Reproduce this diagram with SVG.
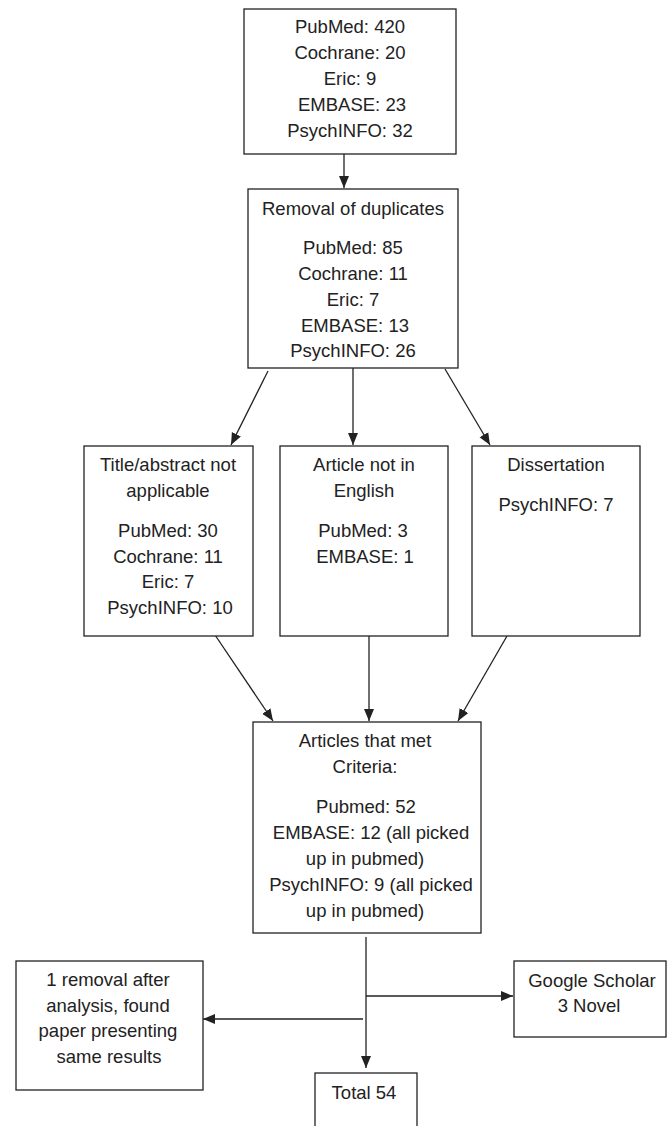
<svg xmlns="http://www.w3.org/2000/svg" width="667" height="1126" viewBox="0 0 667 1126">
<style>
.box{fill:#fff;stroke:#222;stroke-width:1.3}
.t{font-family:"Liberation Sans",Arial,sans-serif;font-size:18.5px;fill:#222;text-anchor:middle}
.c{stroke:#222;stroke-width:1.3;fill:none;marker-end:url(#ah)}
</style>
<defs>
<marker id="ah" markerUnits="userSpaceOnUse" markerWidth="12" markerHeight="12" viewBox="0 0 12 12" refX="12" refY="6" orient="auto">
<path d="M0,1 L12,6 L0,11 Z" fill="#222"/>
</marker>
</defs>
<rect width="667" height="1126" fill="#fff"/>
<g id="connectors">
<line class="c" x1="344" y1="154" x2="344" y2="188"/>
<line class="c" x1="268" y1="371" x2="231" y2="445"/>
<line class="c" x1="353" y1="368" x2="353" y2="445"/>
<line class="c" x1="445" y1="369" x2="490" y2="445"/>
<line class="c" x1="213" y1="632" x2="273" y2="721"/>
<line class="c" x1="369" y1="636" x2="369" y2="721"/>
<line class="c" x1="507" y1="636" x2="458" y2="721"/>
<line class="c" x1="366" y1="937" x2="366" y2="1068"/>
<line class="c" x1="366" y1="996" x2="513" y2="996"/>
<line class="c" x1="363" y1="1019" x2="203" y2="1019"/>
</g>
<g id="sources">
<rect class="box" x="244" y="9" width="212" height="145"/>
<text class="t" x="350" y="33">PubMed: 420</text>
<text class="t" x="350" y="59">Cochrane: 20</text>
<text class="t" x="350" y="85">Eric: 9</text>
<text class="t" x="352" y="111">EMBASE: 23</text>
<text class="t" x="350" y="137">PsychINFO: 32</text>
</g>
<g id="duplicates">
<rect class="box" x="248" y="189" width="210" height="179"/>
<text class="t" x="353" y="215">Removal of duplicates</text>
<text class="t" x="353" y="254">PubMed: 85</text>
<text class="t" x="353" y="280">Cochrane: 11</text>
<text class="t" x="353" y="306">Eric: 7</text>
<text class="t" x="355" y="332">EMBASE: 13</text>
<text class="t" x="353" y="357">PsychINFO: 26</text>
</g>
<g id="title-abstract">
<rect class="box" x="84" y="446" width="169" height="190"/>
<text class="t" x="168" y="471">Title/abstract not</text>
<text class="t" x="168" y="497">applicable</text>
<text class="t" x="168" y="537">PubMed: 30</text>
<text class="t" x="168" y="563">Cochrane: 11</text>
<text class="t" x="168" y="588">Eric: 7</text>
<text class="t" x="170" y="614">PsychINFO: 10</text>
</g>
<g id="not-english">
<rect class="box" x="280" y="446" width="168" height="190"/>
<text class="t" x="364" y="471">Article not in</text>
<text class="t" x="364" y="497">English</text>
<text class="t" x="363" y="537">PubMed: 3</text>
<text class="t" x="365" y="563">EMBASE: 1</text>
</g>
<g id="dissertation">
<rect class="box" x="472" y="446" width="168" height="190"/>
<text class="t" x="556" y="471">Dissertation</text>
<text class="t" x="556" y="511">PsychINFO: 7</text>
</g>
<g id="criteria">
<rect class="box" x="253" y="722" width="228" height="211"/>
<text class="t" x="365" y="747">Articles that met</text>
<text class="t" x="365" y="773">Criteria:</text>
<text class="t" x="366" y="813">Pubmed: 52</text>
<text class="t" x="371" y="839">EMBASE: 12 (all picked</text>
<text class="t" x="365" y="865">up in pubmed)</text>
<text class="t" x="371" y="891">PsychINFO: 9 (all picked</text>
<text class="t" x="365" y="917">up in pubmed)</text>
</g>
<g id="removal">
<rect class="box" x="16" y="961" width="187" height="129"/>
<text class="t" x="108" y="986">1 removal after</text>
<text class="t" x="108" y="1012">analysis, found</text>
<text class="t" x="108" y="1037">paper presenting</text>
<text class="t" x="109" y="1063">same results</text>
</g>
<g id="google-scholar">
<rect class="box" x="514" y="961" width="152" height="76"/>
<text class="t" x="592" y="987">Google Scholar</text>
<text class="t" x="589" y="1012">3 Novel</text>
</g>
<g id="total">
<rect class="box" x="315" y="1073" width="102" height="60"/>
<text class="t" x="364" y="1099">Total 54</text>
</g>
</svg>
